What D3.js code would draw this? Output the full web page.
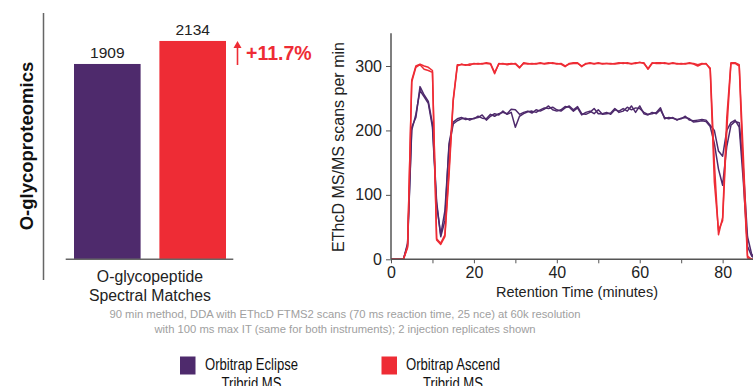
<!DOCTYPE html>
<html>
<head>
<meta charset="utf-8">
<script src="https://cdn.jsdelivr.net/npm/d3@7"></script>
<style>
  body { margin: 0; background: #fff; }
  svg { display: block; font-family: Arial, "Liberation Sans", sans-serif; }
</style>
</head>
<body>
<svg id="chart" width="753" height="386"></svg>
<script>
// bar chart values
var barCategory = ["O-glycopeptide", "Spectral Matches"];
var instruments = ["Orbitrap Eclipse", "Orbitrap Ascend"];
var matches = [1909, 2134];
var gainLabel = "+11.7%";

// scans per minute, one value per minute of retention time (0..88)
var minutes = d3.range(0, 89);
var eclipseRep1 = [0,0,0,0,25,205,220,268,255,245,210,90,35,60,180,213,218,220,217,218,
  218,222,219,218,225,222,226,228,226,233,232,225,228,230,227,232,230,233,238,232,
  230,232,237,236,230,235,224,228,230,226,232,225,226,227,234,228,230,236,232,235,
  234,228,225,226,228,235,218,220,219,217,218,222,216,215,216,217,216,208,200,168,
  160,200,212,216,205,120,20,5,0];
var eclipseRep2 = [0,0,0,0,22,200,225,262,252,242,205,85,38,75,175,210,215,218,219,216,
  219,220,224,216,222,226,224,230,225,228,205,222,226,229,230,228,232,235,234,236,
  232,230,235,238,232,237,226,225,228,234,226,226,228,225,232,230,234,230,238,228,
  238,226,224,228,226,232,220,218,220,216,219,220,218,213,214,215,214,206,180,140,
  115,175,208,214,212,140,35,8,0];
var ascendRep1 = [0,0,0,0,20,278,300,303,300,298,293,32,25,38,140,248,302,302,302,301,
  304,303,304,304,303,288,304,303,303,304,303,297,305,304,303,304,304,304,305,304,
  304,303,299,304,305,305,299,304,304,304,304,304,304,303,304,305,304,305,303,305,
  305,305,295,304,305,305,304,304,304,304,303,304,304,304,302,304,303,297,150,38,
  65,220,305,305,302,160,5,0,0];
var ascendRep2 = [0,0,0,0,18,275,298,302,295,293,290,30,23,35,130,245,300,303,301,303,
  303,304,303,305,304,290,303,304,302,303,304,298,304,303,304,303,305,303,304,305,
  303,304,300,303,304,304,300,303,305,303,305,303,304,304,303,304,305,304,304,304,
  306,304,296,305,304,304,305,303,305,303,304,303,305,303,300,303,304,295,120,45,
  60,200,304,304,300,130,2,0,0];

var yTicks = [0, 100, 200, 300];
var xTicks = [0, 20, 40, 60, 80];

var purple = "#4e2a6c";
var red = "#ee2c35";

var svg = d3.select("#chart");

// ---------- left panel: bar chart ----------
var bx = d3.scaleBand().domain(instruments).range([74, 226]).paddingInner(0.22).paddingOuter(0);
var by = d3.scaleLinear().domain([0, 2200]).range([259.3, 34.2]);
var barColor = d3.scaleOrdinal().domain(instruments).range([purple, red]);

// vertical divider line
svg.append("line")
  .attr("x1", 43.5).attr("x2", 43.5).attr("y1", 13).attr("y2", 280)
  .style("stroke", "#666").style("stroke-width", 1.5);

svg.append("text")
  .attr("transform", "translate(33,146) rotate(-90)")
  .attr("text-anchor", "middle")
  .style("font-weight", "bold").style("font-size", "18.5px").style("fill", "#111")
  .text("O-glycoproteomics");

svg.selectAll("rect.bar")
  .data(matches)
  .enter()
  .append("rect")
  .attr("class", "bar")
  .attr("x", function(d, i) { return bx(instruments[i]); })
  .attr("width", bx.bandwidth())
  .attr("y", function(d) { return by(d); })
  .attr("height", function(d) { return by(0) - by(d); })
  .style("fill", function(d, i) { return barColor(instruments[i]); });

svg.selectAll("text.barval")
  .data(matches)
  .enter()
  .append("text")
  .attr("class", "barval")
  .attr("x", function(d, i) { return bx(instruments[i]) + bx.bandwidth() / 2; })
  .attr("y", function(d) { return by(d) - 6; })
  .attr("text-anchor", "middle")
  .style("font-size", "15.5px").style("fill", "#222")
  .text(function(d) { return d; });

// baseline
svg.append("line")
  .attr("x1", 65.7).attr("x2", 233.3).attr("y1", by(0)).attr("y2", by(0))
  .style("stroke", "#666").style("stroke-width", 1.5);

// category label under bars
svg.append("text")
  .attr("x", 150).attr("y", 282)
  .attr("text-anchor", "middle")
  .style("font-size", "15.8px").style("fill", "#222")
  .selectAll("tspan")
  .data(barCategory)
  .enter()
  .append("tspan")
  .attr("x", 150)
  .attr("dy", function(d, i) { return i === 0 ? 0 : 18.5; })
  .text(function(d) { return d; });

// up arrow and gain
svg.append("line")
  .attr("x1", 237.5).attr("x2", 237.5).attr("y1", 65).attr("y2", 45)
  .style("stroke", red).style("stroke-width", 1.6);
svg.append("path")
  .attr("d", "M233.5,48 L237.5,41 L241.5,48 Z")
  .style("fill", red);
svg.append("text")
  .attr("x", 246).attr("y", 59.5)
  .style("font-weight", "bold").style("font-size", "19.5px").style("fill", red)
  .text(gainLabel);

// ---------- right panel: line chart ----------
var x = d3.scaleLinear().domain([0, 88]).range([391, 755.8]);
var y = d3.scaleLinear().domain([0, 300]).range([259.3, 66]);

var lineG = svg.append("g");

var line = d3.line()
  .x(function(d, i) { return x(minutes[i]); })
  .y(function(d) { return y(d); });

var series = [
  { values: eclipseRep1, color: purple },
  { values: eclipseRep2, color: purple },
  { values: ascendRep1, color: red },
  { values: ascendRep2, color: red }
];

lineG.selectAll("path.trace")
  .data(series)
  .enter()
  .append("path")
  .attr("class", "trace")
  .attr("d", function(d) { return line(d.values); })
  .style("fill", "none")
  .style("stroke", function(d) { return d.color; })
  .style("stroke-width", 1.5)
  .style("stroke-linejoin", "round");

// axes
var yAxis = d3.axisLeft(y).tickValues(yTicks).tickSize(5).tickPadding(4);
var xAxis = d3.axisBottom(x).tickValues(d3.range(0, 90, 10)).tickSize(4).tickPadding(3)
  .tickFormat(function(d) { return xTicks.indexOf(d) >= 0 ? d : ""; });

var gy = svg.append("g").attr("transform", "translate(391,0)").call(yAxis);
gy.select(".domain").attr("d", "M0," + y(0) + "V33.3");
var gx = svg.append("g").attr("transform", "translate(0," + y(0) + ")").call(xAxis);
gx.select(".domain").attr("d", "M391,0H760");

svg.selectAll(".domain").style("stroke", "#555").style("stroke-width", 1.5);
svg.selectAll(".tick line").style("stroke", "#555");
svg.selectAll(".tick text").style("font-size", "16px").style("fill", "#222")
  .style("font-family", "Arial, 'Liberation Sans', sans-serif");

svg.append("text")
  .attr("transform", "translate(344,147) rotate(-90)")
  .attr("text-anchor", "middle")
  .style("font-size", "16px").style("fill", "#222")
  .text("EThcD MS/MS scans per min");

svg.append("text")
  .attr("x", 577).attr("y", 297)
  .attr("text-anchor", "middle")
  .style("font-size", "14.5px").style("fill", "#222")
  .text("Retention Time (minutes)");

// footnote
var footnote = [
  "90 min method, DDA with EThcD FTMS2 scans (70 ms reaction time, 25 nce) at 60k resolution",
  "with 100 ms max IT (same for both instruments); 2 injection replicates shown"
];
svg.append("text")
  .attr("text-anchor", "middle")
  .style("font-size", "11.5px").style("fill", "#a0a0a0")
  .selectAll("tspan")
  .data(footnote)
  .enter()
  .append("tspan")
  .attr("x", 345)
  .attr("y", function(d, i) { return 318 + i * 15; })
  .attr("textLength", function(d, i) { return [471, 381][i]; })
  .attr("lengthAdjust", "spacingAndGlyphs")
  .text(function(d) { return d; });

// legend
var legendNames = [["Orbitrap Eclipse", "Tribrid MS"], ["Orbitrap Ascend", "Tribrid MS"]];
var legendWidths = [[93, 60], [94, 60]];
var legendX = [180, 381.5];
var legend = svg.selectAll("g.legend")
  .data(legendNames)
  .enter()
  .append("g")
  .attr("class", "legend")
  .attr("transform", function(d, i) { return "translate(" + legendX[i] + ",356.5)"; });
legend.append("rect")
  .attr("width", 15.5).attr("height", 18)
  .style("fill", function(d, i) { return [purple, red][i]; });
legend.append("text")
  .attr("text-anchor", "middle")
  .style("font-size", "16px").style("fill", "#111")
  .selectAll("tspan")
  .data(function(d, i) { return d.map(function(s, j) { return { s: s, w: legendWidths[i][j] }; }); })
  .enter()
  .append("tspan")
  .attr("x", 71.5)
  .attr("y", function(d, i) { return 13.5 + i * 18.5; })
  .attr("textLength", function(d) { return d.w; })
  .attr("lengthAdjust", "spacingAndGlyphs")
  .text(function(d) { return d.s; });
</script>
</body>
</html>
